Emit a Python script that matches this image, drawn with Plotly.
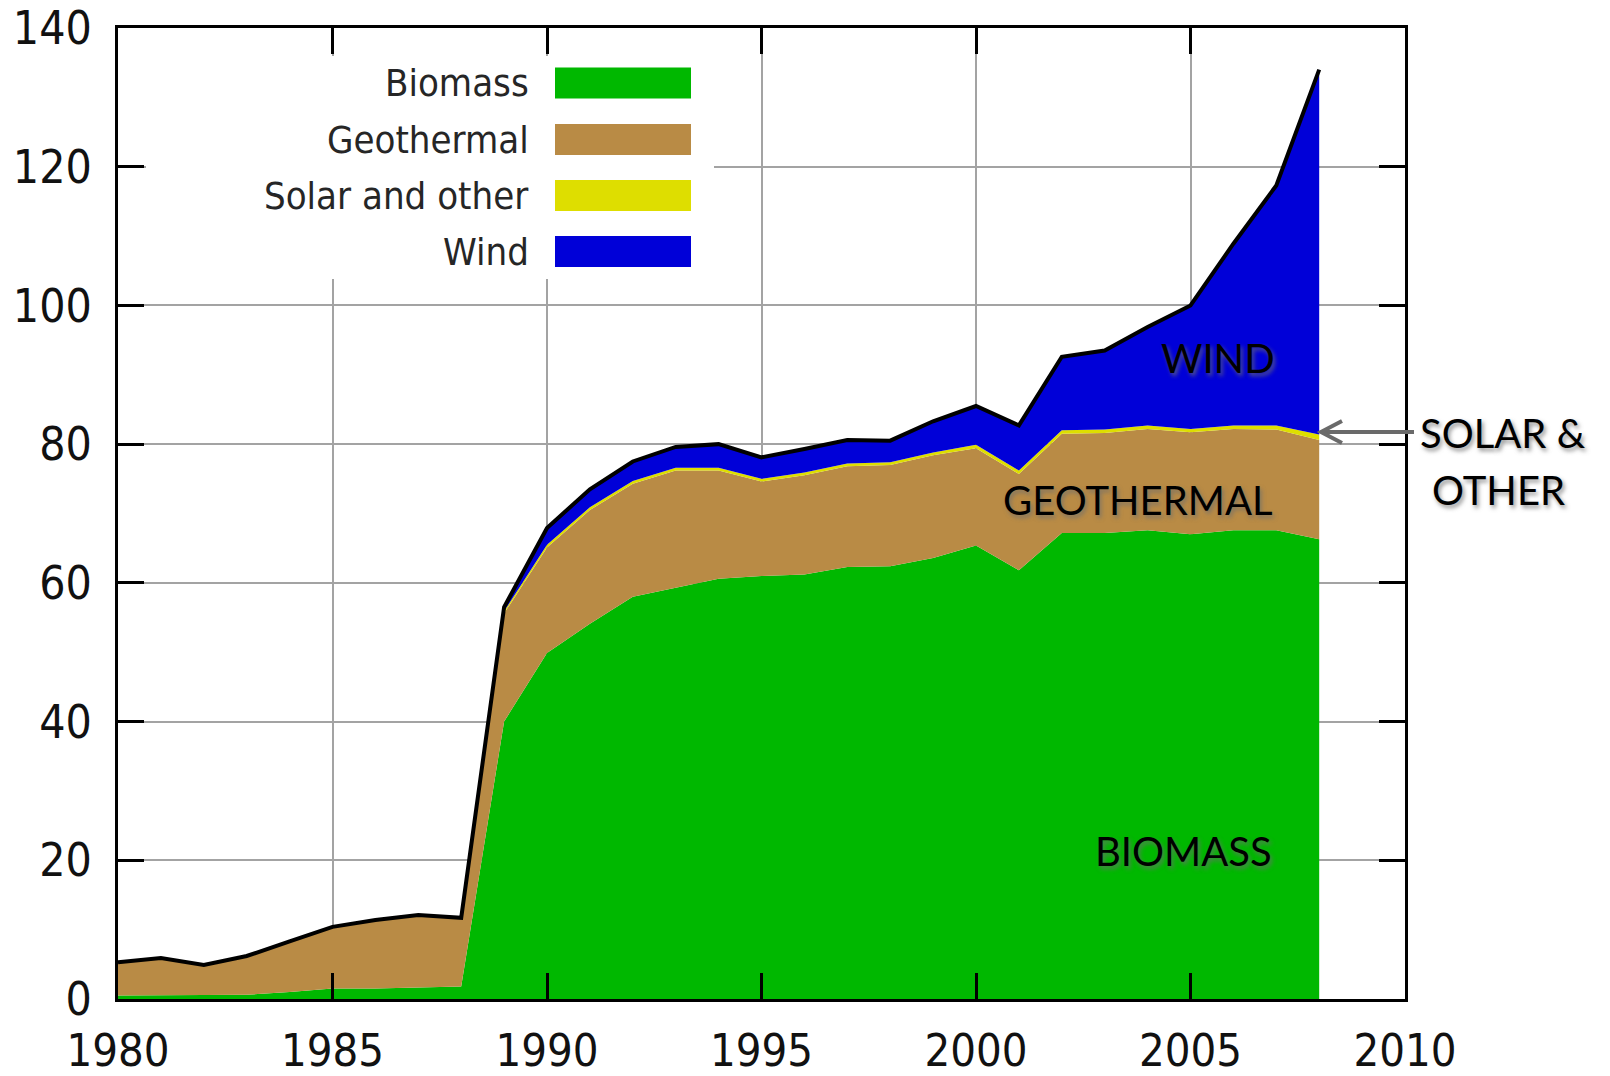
import plotly.graph_objects as go

years = list(range(1980, 2009))
biomass = [0.5, 0.5, 0.5, 0.6, 1.0, 1.5, 1.5, 1.7, 1.8, 40.0, 49.9, 54.1, 58.0, 59.3, 60.6,
           61.0, 61.2, 62.3, 62.4, 63.6, 65.4, 61.8, 67.2, 67.2, 67.6, 67.0, 67.6, 67.6, 66.3]
geothermal = [4.8, 5.4, 4.4, 5.6, 7.3, 8.9, 9.9, 10.4, 9.9, 15.6, 15.2, 16.4, 16.3, 16.9, 15.6,
              13.6, 14.3, 14.5, 14.6, 14.8, 14.0, 13.9, 14.3, 14.4, 14.6, 14.7, 14.6, 14.5, 14.3]
solar = [0.0, 0.0, 0.0, 0.0, 0.0, 0.0, 0.0, 0.0, 0.0, 0.3, 0.4, 0.4, 0.4, 0.4, 0.4,
         0.4, 0.4, 0.4, 0.4, 0.4, 0.5, 0.5, 0.5, 0.5, 0.5, 0.5, 0.5, 0.6, 0.8]
wind = [0.0, 0.0, 0.0, 0.0, 0.0, 0.0, 0.0, 0.0, 0.0, 0.6, 2.4, 2.6, 2.8, 3.0, 3.4,
        3.1, 3.4, 3.4, 3.1, 4.5, 5.6, 6.5, 10.6, 11.4, 14.2, 17.8, 26.2, 34.6, 52.6]

x_ticks = [1980, 1985, 1990, 1995, 2000, 2005, 2010]
y_ticks = [0, 20, 40, 60, 80, 100, 120, 140]

series_names = ["Biomass", "Geothermal", "Solar and other", "Wind"]
series_values = [biomass, geothermal, solar, wind]
colors = ["#00b800", "#b98b45", "#dede00", "#0000d8"]

W, H = 1610, 1076
L, R, T, B = 118, 205, 28, 77
PW, PH = W - L - R, H - T - B

def px(X):
    return (X - L) / PW

def py(Y):
    return (H - B - Y) / PH

fig = go.Figure()
for name, vals, col in zip(series_names, series_values, colors):
    is_top = name == "Wind"
    fig.add_trace(go.Scatter(
        x=years, y=vals, name=name, mode="lines", stackgroup="one",
        fillcolor=col,
        line=dict(color="black" if is_top else col, width=4 if is_top else 0),
        showlegend=False, hoverinfo="skip",
    ))

tick_font = dict(family="DejaVu Sans Condensed, Liberation Sans Narrow, DejaVu Sans", size=46, color="#111111")
axis_common = dict(
    showline=True, linecolor="black", linewidth=3, mirror="ticks",
    ticks="inside", ticklen=26, tickwidth=3, tickcolor="black",
    showgrid=True, gridcolor="#a3a3a3", gridwidth=2, zeroline=False,
    automargin=False,
)
fig.update_xaxes(range=[1980, 2010], tickvals=x_ticks, ticktext=[str(v) for v in x_ticks],
                 ticklabelstandoff=10, tickfont=dict(tick_font, size=45), **axis_common)
fig.update_yaxes(range=[0, 140], tickvals=y_ticks, ticktext=[str(v) for v in y_ticks],
                 ticklabelstandoff=14, tickfont=tick_font, **axis_common)

shapes = []
annotations = []
# legend background
shapes.append(dict(type="rect", xref="paper", yref="paper", x0=px(146), x1=px(714), y0=py(279), y1=py(56),
                   fillcolor="white", line=dict(width=0), layer="above"))
legend_rows = [83, 139.6, 195.5, 251.6]
leg_font = dict(family="DejaVu Sans Condensed, Liberation Sans Narrow, DejaVu Sans", size=38, color="#262626")
for name, col, yc in zip(series_names, colors, legend_rows):
    shapes.append(dict(type="rect", xref="paper", yref="paper", x0=px(555), x1=px(691),
                       y0=py(yc + 15.5), y1=py(yc - 15.5), fillcolor=col, line=dict(width=0), layer="above"))
    annotations.append(dict(text=name, xref="paper", yref="paper", x=px(531), y=py(yc),
                            xanchor="right", yanchor="middle", showarrow=False, font=leg_font))

lab_font = dict(family="Lato, Carlito, sans-serif", size=40, color="black",
                shadow="2px 3px 4px rgba(110,110,110,0.75)")
for txt, X, Y in [("WIND", 1218, 358), ("GEOTHERMAL", 1138, 500), ("BIOMASS", 1183, 851),
                  ("SOLAR &", 1503, 433), ("OTHER", 1498, 490)]:
    annotations.append(dict(text=txt, xref="paper", yref="paper", x=px(X), y=py(Y),
                            xanchor="center", yanchor="middle", showarrow=False, font=lab_font))

# arrow pointing to the solar band
arrow_col = "#6a6a6a"
shapes.append(dict(type="line", xref="paper", yref="paper", x0=px(1414), x1=px(1324), y0=py(432), y1=py(432),
                   line=dict(color=arrow_col, width=4), layer="above"))
shapes.append(dict(type="path", xref="paper", yref="paper",
                   path=f"M {px(1342)},{py(421)} L {px(1321)},{py(432)} L {px(1342)},{py(443)}",
                   line=dict(color=arrow_col, width=4), layer="above"))

fig.update_layout(
    width=W, height=H, margin=dict(l=L, r=R, t=T, b=B, autoexpand=False),
    paper_bgcolor="white", plot_bgcolor="white",
    shapes=shapes, annotations=annotations, showlegend=False,
)
fig.write_html("out.html", config={"displayModeBar": False},
               post_script="document.body.style.margin='0px';document.body.style.overflow='hidden';")
